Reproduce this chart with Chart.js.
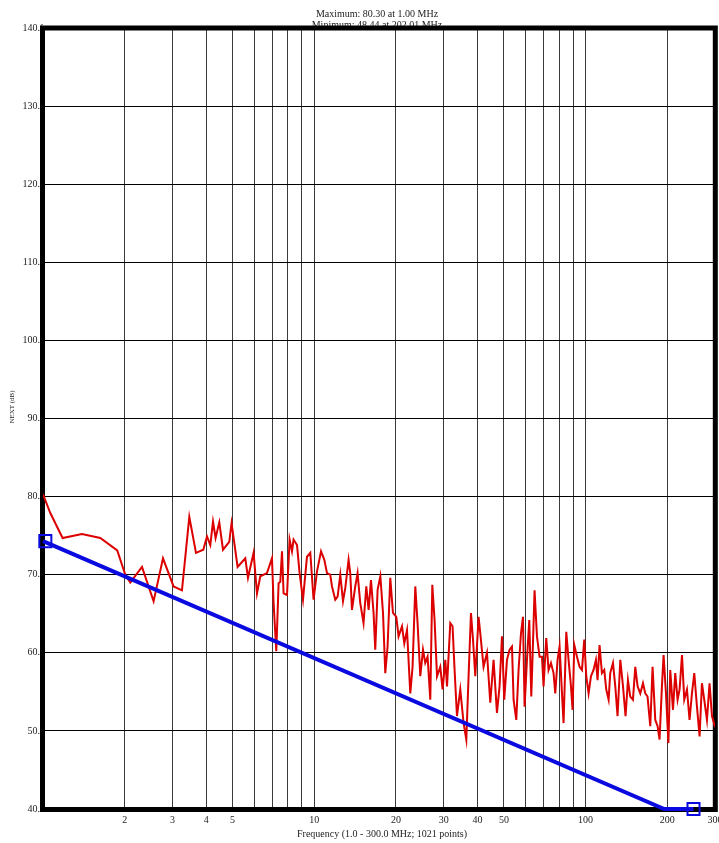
<!DOCTYPE html>
<html>
<head>
<meta charset="utf-8">
<script src="https://cdn.jsdelivr.net/npm/chart.js@4.4.1/dist/chart.umd.min.js"></script>
<style>
  html, body { margin: 0; padding: 0; background: #fff; overflow: hidden; }
  #wrap { width: 719px; height: 843px; position: relative; }
</style>
</head>
<body>
<div id="wrap"><canvas id="c" width="719" height="843"></canvas></div>
<script>
// Frequency grid (MHz) and the subset that carries a label
const gridFreqs = [1, 2, 3, 4, 5, 6, 7, 8, 9, 10, 20, 30, 40, 50, 60, 70, 80, 90, 100, 200, 300];
const labelFreqs = [2, 3, 4, 5, 10, 20, 30, 40, 50, 100, 200, 300];
const nextTicks = [40, 50, 60, 70, 80, 90, 100, 110, 120, 130, 140];

// Measured NEXT trace: frequency (MHz) / NEXT (dB)
const redFreq = [
  1.00, 1.064, 1.181, 1.392, 1.626, 1.878, 2.011, 2.098, 2.317, 2.557,
  2.769, 3.029, 3.253, 3.462, 3.664, 3.898, 4.023, 4.137, 4.233, 4.327,
  4.465, 4.608, 4.860, 4.956, 5.216, 5.568, 5.697, 5.974, 6.149, 6.324,
  6.693, 6.983, 7.079, 7.244, 7.387, 7.494, 7.603, 7.707, 7.933, 8.110,
  8.276, 8.389, 8.635, 8.828, 9.086, 9.399, 9.667, 9.940, 10.23, 10.59,
  10.89, 11.14, 11.45, 11.62, 11.95, 12.19, 12.47, 12.76, 13.01, 13.38,
  13.57, 13.77, 14.16, 14.44, 14.77, 15.19, 15.55, 15.86, 16.18, 16.54,
  16.78, 17.12, 17.52, 17.92, 18.27, 18.63, 19.06, 19.50, 20.06, 20.45,
  21.06, 21.47, 21.97, 22.59, 23.03, 23.57, 24.03, 24.59, 25.16, 25.65,
  26.16, 26.77, 27.23, 27.76, 28.34, 29.14, 29.72, 30.41, 30.85, 31.72,
  32.34, 32.90, 33.57, 34.53, 35.51, 36.34, 37.05, 37.81, 38.46, 39.22,
  40.33, 40.92, 42.07, 43.31, 44.54, 45.80, 47.14, 48.19, 49.19, 50.15,
  51.32, 52.48, 53.55, 54.28, 55.54, 56.63, 57.80, 58.79, 59.60, 60.81,
  62.01, 63.08, 63.99, 64.86, 66.20, 67.67, 69.07, 70.01, 71.63, 73.04,
  74.55, 76.21, 77.32, 78.85, 80.20, 81.85, 82.97, 84.90, 86.56, 88.35,
  89.56, 90.87, 92.97, 95.04, 96.99, 98.90, 100.6, 102.6, 104.7, 107.0,
  109.2, 110.7, 112.6, 114.9, 117.2, 119.2, 121.6, 123.3, 126.2, 128.7,
  131.2, 134.3, 137.4, 140.4, 143.3, 146.1, 149.5, 152.5, 155.5, 159.1,
  162.8, 166.0, 169.2, 173.2, 176.6, 180.7, 184.3, 187.4, 191.2, 193.9,
  197.9, 202.01, 205.2, 210.0, 214.1, 218.4, 222.1, 226.7, 231.1, 236.5,
  241.7, 246.7, 251.6, 257.4, 263.2, 268.5, 273.8, 280.2, 286.4, 292.4, 300.0
];
const redNext = [
  80.3, 77.9, 74.7, 75.2, 74.7, 73.1, 70.0, 69.0, 71.0, 66.6,
  72.1, 68.5, 68.0, 77.4, 72.8, 73.2, 74.9, 73.8, 76.8, 74.7,
  76.7, 73.2, 74.2, 76.6, 71.0, 72.1, 69.6, 72.8, 67.6, 69.8,
  70.2, 72.1, 66.4, 60.2, 68.9, 69.1, 73.0, 67.6, 67.4, 74.5,
  73.0, 74.5, 73.8, 70.2, 66.8, 72.3, 72.8, 66.8, 70.4, 73.0,
  71.9, 70.2, 70.0, 68.5, 66.8, 67.2, 70.0, 66.6, 68.3, 71.9,
  70.2, 65.5, 68.5, 70.2, 66.4, 63.8, 68.5, 65.5, 69.3, 65.1,
  60.4, 68.1, 69.8, 65.1, 57.4, 60.8, 69.6, 65.1, 64.6, 62.1,
  63.4, 61.2, 62.9, 54.8, 58.2, 68.5, 63.8, 57.0, 60.4, 58.7,
  59.5, 54.0, 68.7, 64.2, 57.0, 58.2, 55.3, 59.1, 55.7, 63.8,
  63.4, 57.8, 51.9, 55.3, 51.0, 48.9, 57.0, 65.1, 61.7, 57.0,
  64.6, 62.5, 58.2, 60.0, 53.6, 59.1, 52.3, 55.7, 62.1, 54.0,
  59.1, 60.4, 60.8, 54.0, 51.4, 57.8, 62.5, 64.6, 53.1, 59.1,
  64.2, 54.4, 61.2, 68.0, 62.1, 59.5, 59.5, 55.7, 61.9, 57.8,
  58.7, 57.4, 54.8, 59.1, 60.8, 54.8, 51.0, 62.7, 59.1, 55.7,
  52.7, 61.0, 59.5, 58.2, 57.8, 61.7, 57.0, 54.8, 57.0, 57.8,
  59.1, 56.5, 61.0, 57.4, 57.8, 55.3, 54.0, 57.4, 58.7, 55.7,
  51.9, 59.1, 55.7, 51.9, 56.5, 54.4, 54.0, 58.2, 55.7, 54.8,
  56.1, 54.8, 54.4, 50.6, 58.2, 51.4, 50.6, 48.9, 55.7, 59.7,
  54.8, 48.44, 57.8, 52.7, 57.4, 54.0, 55.3, 59.7, 54.0, 55.3,
  51.4, 54.8, 57.4, 53.1, 49.3, 56.1, 54.0, 51.4, 56.1, 51.9, 50.5
];

// Limit line and its end markers
const limitFreq = [1, 195, 250];
const limitNext = [74.3, 40, 40];
const markerFreq = [1.02, 250];
const markerNext = [74.3, 40];

const titleLines = ['Maximum: 80.30 at 1.00 MHz', 'Minimum: 48.44 at 202.01 MHz'];
const xTitle = 'Frequency (1.0 - 300.0 MHz; 1021 points)';
const yTitle = 'NEXT (dB)';

const SERIF = '"Liberation Serif", "Times New Roman", serif';
const TEXT_COLOR = '#222';

const pairs = (xs, ys) => xs.map((x, i) => ({ x: x, y: ys[i] }));

// Header, axis titles and the heavy plot frame, painted under the traces
const framePlugin = {
  id: 'frame',
  beforeDatasetsDraw(chart) {
    const ctx = chart.ctx;
    const a = chart.chartArea;
    ctx.save();
    ctx.fillStyle = TEXT_COLOR;
    ctx.font = '10px ' + SERIF;
    ctx.textAlign = 'center';
    ctx.textBaseline = 'alphabetic';
    ctx.fillText(titleLines[0], 377, 17);
    ctx.fillText(titleLines[1], 377, 27.5);
    ctx.fillText(xTitle, 382, 836.5);
    ctx.translate(14, 407);
    ctx.rotate(-Math.PI / 2);
    ctx.font = '7px ' + SERIF;
    ctx.fillText(yTitle, 0, 0);
    ctx.restore();

    ctx.save();
    ctx.strokeStyle = '#000';
    ctx.lineWidth = 5;
    ctx.strokeRect(a.left - 0.5, a.top, a.right - a.left + 0.8, a.bottom - a.top + 0.5);
    ctx.restore();
  }
};

new Chart(document.getElementById('c'), {
  type: 'line',
  data: {
    datasets: [
      {
        label: 'NEXT',
        data: pairs(redFreq, redNext),
        borderColor: '#dc0000',
        borderWidth: 2,
        pointRadius: 0,
        tension: 0,
        fill: false,
        order: 3
      },
      {
        label: 'Limit',
        data: pairs(limitFreq, limitNext),
        borderColor: '#0a0ae0',
        borderWidth: 4,
        pointRadius: 0,
        tension: 0,
        fill: false,
        clip: false,
        order: 2
      },
      {
        label: 'Markers',
        data: pairs(markerFreq, markerNext),
        showLine: false,
        pointStyle: 'rect',
        pointRadius: 8.5,
        pointBorderWidth: 2,
        pointBorderColor: '#0a0ae0',
        pointBackgroundColor: 'rgba(0,0,0,0)',
        clip: false,
        order: 1
      }
    ]
  },
  options: {
    responsive: false,
    animation: false,
    events: [],
    layout: { autoPadding: false, padding: { top: 28, right: 4, left: 0, bottom: 0 } },
    plugins: { legend: { display: false }, tooltip: { enabled: false }, title: { display: false } },
    scales: {
      x: {
        type: 'logarithmic',
        min: 1,
        max: 300,
        afterBuildTicks(scale) {
          scale.ticks = gridFreqs.map(v => ({ value: v }));
        },
        afterFit(scale) {
          scale.height = 34;
          scale.paddingLeft = 0;
          scale.paddingRight = 0;
        },
        grid: { color: '#3c3c3c', lineWidth: 1, drawTicks: false },
        border: { display: false },
        ticks: {
          autoSkip: false,
          maxRotation: 0,
          padding: 5,
          color: TEXT_COLOR,
          font: { family: SERIF, size: 10 },
          callback: (v) => labelFreqs.includes(v) ? String(v) : ''
        }
      },
      y: {
        type: 'linear',
        min: 40,
        max: 140,
        afterBuildTicks(scale) {
          scale.ticks = nextTicks.map(v => ({ value: v }));
        },
        afterFit(scale) {
          scale.width = 43;
          scale.paddingTop = 0;
          scale.paddingBottom = 0;
        },
        grid: { color: '#000', lineWidth: 1, drawTicks: false },
        border: { display: false },
        ticks: {
          padding: -2,
          color: TEXT_COLOR,
          font: { family: SERIF, size: 10 },
          callback: (v) => Number(v).toFixed(1)
        }
      }
    }
  },
  plugins: [framePlugin]
});
</script>
</body>
</html>
